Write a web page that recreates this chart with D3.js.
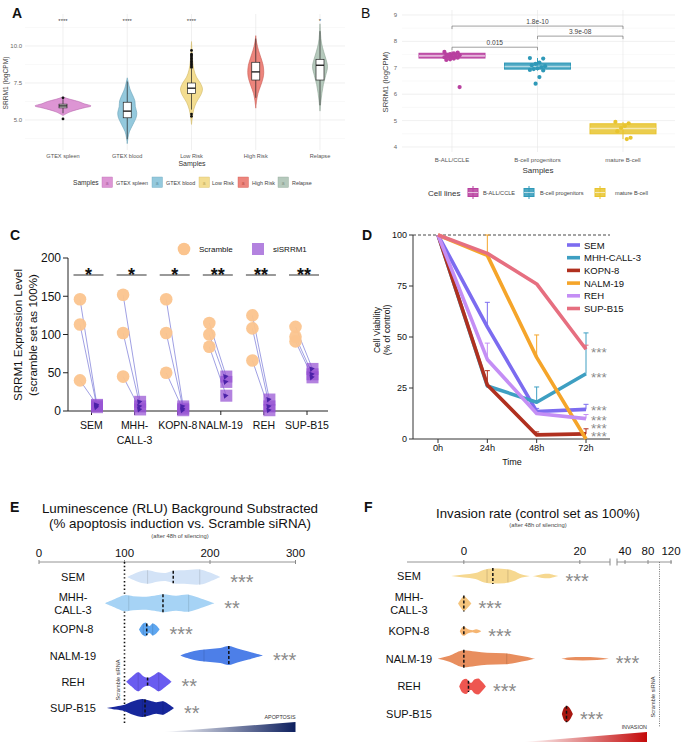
<!DOCTYPE html>
<html><head><meta charset="utf-8">
<script src="https://cdn.jsdelivr.net/npm/d3@7"></script>
<style>body{margin:0;background:#fff}svg{display:block}text{font-family:"Liberation Sans",Arial,Helvetica,sans-serif}</style>
</head><body>
<svg id="chart" width="685" height="746"></svg>
<script>
// ================= DATA =================
// Panel A
const aCategories = ["GTEX spleen","GTEX blood","Low Risk","High Risk","Relapse"];
const aYTicks = [5.0, 7.5, 10.0];
const aProfiles = [
  [[5.3,0],[5.55,0.25],[5.8,0.7],[5.95,1],[6.1,0.75],[6.25,0.55],[6.4,0.25],[6.55,0]],
  [[3.4,0],[3.8,0.08],[4.2,0.22],[4.7,0.6],[5.2,0.95],[5.5,1],[5.9,0.85],[6.3,0.8],[6.7,0.55],[7.1,0.28],[7.5,0.12],[7.85,0]],
  [[4.7,0],[5.2,0.08],[5.7,0.2],[6.2,0.45],[6.7,0.85],[7.1,1],[7.5,0.8],[7.9,0.45],[8.4,0.22],[9.0,0.1],[9.6,0.05],[10.3,0]],
  [[5.8,0],[6.3,0.1],[6.8,0.28],[7.3,0.6],[7.8,0.9],[8.2,1],[8.7,0.92],[9.2,0.65],[9.7,0.35],[10.2,0.12],[10.7,0]],
  [[5.6,0],[6.2,0.1],[6.8,0.25],[7.4,0.45],[8.0,0.75],[8.6,1],[9.1,0.8],[9.6,0.5],[10.2,0.2],[10.8,0.07],[11.5,0]]
];
const aBoxes = [ // q1, median, q3, whisker low, whisker high
  [5.82,5.95,6.07,5.45,6.4],
  [5.15,5.6,6.2,3.7,7.6],
  [6.8,7.15,7.5,5.7,8.45],
  [7.7,8.25,8.9,6.5,10.5],
  [7.7,8.7,9.1,6.0,11.0]
];
const aOutliers = [[6.5,5.07],[],[8.55,8.65,8.75,8.85,8.95,9.05,9.15,9.25,9.35,9.45,9.7,5.25,5.4],[],[]];
const aSignif = ["****","****","****","","*"];

// Panel B
const bCategories = ["B-ALL/CCLE","B-cell progenitors","mature B-cell"];
const bYTicks = [4,5,6,7,8,9];
const bBoxes = [
  [7.37,7.45,7.55,7.3,7.62],
  [6.95,7.05,7.18,6.9,7.37],
  [4.5,4.7,4.88,4.3,4.95]
];
const bPoints = [
  [7.6,7.58,7.55,7.52,7.5,7.48,7.46,7.44,7.42,7.4,7.38,7.35,7.32,7.3,6.27],
  [7.37,7.35,7.2,7.15,7.1,7.06,7.02,6.98,6.95,6.92,6.9,6.65,6.4],
  [4.95,4.9,4.8,4.72,4.6,4.35,4.3]
];
const bComparisons = [
  {from:0, to:2, label:"1.8e-10", level:8.58},
  {from:1, to:2, label:"3.9e-08", level:8.2},
  {from:0, to:1, label:"0.015", level:7.78}
];

// Panel C
const cCategories = ["SEM","MHH-CALL-3","KOPN-8","NALM-19","REH","SUP-B15"];
const cYTicks = [0,50,100,150,200];
const cScramble = [[146,113,40],[152,102,45],[146,102,50],[115,100,84],[125,108,66],[110,97,91]];
const cSiSRRM1 = [[7,5,8],[12,6,2],[6,3,1],[45,38,20],[15,6,1],[55,48,44]];
const cSignif = ["*","*","*","**","**","**"];

// Panel D
const dTimes = ["0h","24h","48h","72h"];
const dYTicks = [0,25,50,75,100];
const dSeries = ["SEM","MHH-CALL-3","KOPN-8","NALM-19","REH","SUP-B15"];
const dSEM    = [100,55,13.5,14.5];
const dMHH    = [100,26,18,32];
const dKOPN   = [100,26.5,2,2.5];
const dNALM   = [100,90,40,0];
const dREH    = [100,39,12.5,10];
const dSUP    = [100,91,76,44];
const dErrSEM  = [0,12,1.5,2.5];
const dErrMHH  = [0,0,7.5,20];
const dErrKOPN = [0,7,1.5,2.5];
const dErrNALM = [0,10,11,0];
const dErrREH  = [0,8,1.5,2];
const dErrSUP  = [0,0,0,2];
const dStarLevels = [44,31.5,15.5,10.8,6.8,2.6];
const dStarLabels = ["***","***","***","***","***","***"];

// Panel E
const eCategories = ["SEM","MHH-CALL-3","KOPN-8","NALM-19","REH","SUP-B15"];
const eTicks = [0,100,200,300];
const eProfiles = [
  [[103,0],[110,0.35],[118,0.7],[127,0.85],[138,0.6],[148,0.5],[158,0.8],[170,0.85],[188,0.95],[200,0.55],[212,0]],
  [[77,0],[88,0.4],[100,0.8],[110,0.7],[122,0.65],[135,0.75],[145,0.9],[160,0.75],[175,0.85],[190,0.45],[205,0]],
  [[117,0],[121,0.7],[125,0.9],[129,0.45],[133,0.8],[137,0.55],[141,0]],
  [[165,0],[175,0.3],[188,0.55],[200,0.65],[212,0.75],[222,0.95],[232,0.7],[245,0.4],[262,0]],
  [[102,0],[108,0.45],[116,0.95],[123,0.5],[128,0.4],[134,0.65],[140,0.95],[148,0.5],[155,0]],
  [[78,0],[90,0.18],[100,0.35],[110,0.75],[121,1],[130,0.8],[137,0.65],[145,0.75],[152,0.4],[158,0]]
];
const eQuartiles = [[127,188],[105,175],[122,133],[193],[116,140],[121,145]];
const eMedians = [157,145,126,222,127,124];
const eStars = ["***","**","***","***","**","**"];

// Panel F
const fCategories = ["SEM","MHH-CALL-3","KOPN-8","NALM-19","REH","SUP-B15"];
const fTicksLow = [0,20];
const fTicksHigh = [40,80,120];
const fProfiles = [
  [[-2.2,0],[0,0.2],[2,0.4],[3.5,0.85],[5,1],[7,0.95],[8.5,0.7],[10,0.2],[11,0.05],[11.8,0],[12.3,0.05],[13.5,0.25],[14.5,0.3],[15.5,0.15],[16.3,0]],
  [[-1,0],[-0.4,0.7],[0,1],[0.5,0.7],[1.3,0]],
  [[-0.7,0],[-0.2,0.85],[0.1,0.9],[0.5,0.55],[1.0,0.3],[1.5,0.2],[2.1,0.4],[2.6,0.25],[3.0,0]],
  [[-4.5,0],[-2.5,0.35],[0,1],[2,0.85],[4,0.7],[7,0.65],[9,0.45],[11,0.2],[12.3,0],[16.8,0],[18,0.15],[20.5,0.2],[23,0.15],[25,0]],
  [[-0.8,0],[-0.2,0.8],[0.4,0.95],[1.0,0.5],[1.3,0.45],[1.8,0.85],[2.5,1],[3.1,0.6],[3.8,0]],
  [[16.9,0],[17.3,0.8],[17.8,1],[18.3,0.7],[18.8,0]]
];
const fQuartiles = [[4,7.6],[],[],[7.4],[],[]];
const fMedians = [5,0,0,0,0.8,17.7];
const fStars = ["***","***","***","***","***","***"];
const fControl = 100;

// ================= STYLES =================
const aColors = ["#d47ac9","#79bcd4","#f0d576","#e9675c","#a3bcab"];
const aHalf = [28,9.5,11,8,7.5];
const bColors = ["#b8409f","#2f99b8","#e8c42e"];
const dColors = ["#7c6cf0","#3e9fc2","#b0301f","#f5a52a","#c48ef5","#e66f80"];
const eColors = ["#d3e3f7","#a6d3f5","#5ea6f0","#4d7fe8","#6a5cf0","#17279c"];
const eHalf = [8,10,7.5,10,10,9];
const fColors = ["#f6d890","#f5c47c","#f5b572","#e88e5e","#ee5650","#a81710"];
const fHalf = [7.5,7.5,5,8.5,8,8];

const svg = d3.select("#chart");
function txt(g,x,y,s,o={}){
  const t=g.append("text").attr("x",x).attr("y",y).text(s)
    .attr("font-size",o.size||10).attr("fill",o.fill||"#111")
    .attr("text-anchor",o.anchor||"start");
  if(o.weight) t.attr("font-weight",o.weight);
  if(o.rotate!=null) t.attr("transform",`rotate(${o.rotate},${x},${y})`);
  if(o.family) t.attr("font-family",o.family);
  return t;
}
function halfAt(p,v){
  for(let i=0;i<p.length-1;i++){const[a,wa]=p[i],[b,wb]=p[i+1];if(v>=a&&v<=b)return wa+(wb-wa)*(v-a)/(b-a);}
  return 0;
}

// ================= PANEL A =================
(function(){
  const g=svg.append("g");
  const y=d3.scaleLinear().domain([5,10]).range([120,46]);
  const x=d3.scalePoint().domain(aCategories).range([63,320]);
  const gx0=25,gx1=345,gy0=14,gy1=150;
  [3.75,6.25,8.75,11.25].forEach(v=>g.append("line").attr("x1",gx0).attr("x2",gx1).attr("y1",y(v)).attr("y2",y(v)).attr("stroke","#f0f0f0").attr("stroke-width",0.4));
  aYTicks.forEach(v=>{
    g.append("line").attr("x1",gx0).attr("x2",gx1).attr("y1",y(v)).attr("y2",y(v)).attr("stroke","#e6e6e6").attr("stroke-width",0.6);
    txt(g,22,y(v)+2,d3.format(".1f")(v),{size:6,fill:"#666",anchor:"end"});
  });
  aCategories.forEach(c=>g.append("line").attr("x1",x(c)).attr("x2",x(c)).attr("y1",gy0).attr("y2",gy1).attr("stroke","#e6e6e6").attr("stroke-width",0.6));
  txt(g,8,83,"SRRM1 (logCPM)",{size:6.6,fill:"#444",anchor:"middle",rotate:-90});
  aCategories.forEach((c,i)=>{
    const cx=x(c),h=aHalf[i],col=aColors[i];
    const area=d3.area().curve(d3.curveCatmullRom).y(d=>y(d[0])).x0(d=>cx-d[1]*h).x1(d=>cx+d[1]*h);
    g.append("path").attr("d",area(aProfiles[i])).attr("fill",col).attr("fill-opacity",0.8).attr("stroke",d3.color(col).darker(0.4)).attr("stroke-width",0.6);
    const [q1,md,q3,lo,hi]=aBoxes[i];
    g.append("line").attr("x1",cx).attr("x2",cx).attr("y1",y(lo)).attr("y2",y(q1)).attr("stroke","#222").attr("stroke-width",0.7);
    g.append("line").attr("x1",cx).attr("x2",cx).attr("y1",y(q3)).attr("y2",y(hi)).attr("stroke","#222").attr("stroke-width",0.7);
    g.append("rect").attr("x",cx-4).attr("width",8).attr("y",y(q3)).attr("height",y(q1)-y(q3)).attr("fill","#fff").attr("stroke","#222").attr("stroke-width",0.7);
    g.append("line").attr("x1",cx-4).attr("x2",cx+4).attr("y1",y(md)).attr("y2",y(md)).attr("stroke","#111").attr("stroke-width",1.3);
    aOutliers[i].forEach(v=>g.append("circle").attr("cx",cx).attr("cy",y(v)).attr("r",1.4).attr("fill","#111"));
    if(aSignif[i]) txt(g,cx,23,aSignif[i],{size:6,fill:"#444",anchor:"middle"});
    txt(g,cx,158,c,{size:5.6,fill:"#555",anchor:"middle"});
  });
  txt(g,192,166,"Samples",{size:7,fill:"#333",anchor:"middle"});
  txt(g,73,184.5,"Samples",{size:6.6,fill:"#333"});
  const lk=[102,152,199,238,278], lt=[116,166,212,252,292];
  aCategories.forEach((c,i)=>{
    g.append("rect").attr("x",lk[i]).attr("y",177).attr("width",10.5).attr("height",10.5).attr("fill",aColors[i]).attr("fill-opacity",0.8).attr("stroke",d3.color(aColors[i]).darker(0.3)).attr("stroke-width",0.4);
    txt(g,lk[i]+5.2,184.5,"a",{size:5,fill:d3.color(aColors[i]).darker(0.6),anchor:"middle"});
    txt(g,lt[i],184.5,c,{size:5.4,fill:"#444"});
  });
  txt(g,12,18,"A",{size:14,weight:"bold",fill:"#111"});
})();

// ================= PANEL B =================
(function(){
  const g=svg.append("g");
  const y=d3.scaleLinear().domain([4,9]).range([147,15]);
  const x=d3.scalePoint().domain(bCategories).range([452,623]);
  const gx0=402,gx1=675;
  [4.5,5.5,6.5,7.5,8.5].forEach(v=>g.append("line").attr("x1",gx0).attr("x2",gx1).attr("y1",y(v)).attr("y2",y(v)).attr("stroke","#f0f0f0").attr("stroke-width",0.4));
  bYTicks.forEach(v=>{
    g.append("line").attr("x1",gx0).attr("x2",gx1).attr("y1",y(v)).attr("y2",y(v)).attr("stroke","#e6e6e6").attr("stroke-width",0.6);
    txt(g,397,y(v)+2,v,{size:6,fill:"#666",anchor:"end"});
  });
  bCategories.forEach(c=>g.append("line").attr("x1",x(c)).attr("x2",x(c)).attr("y1",10).attr("y2",152).attr("stroke","#e6e6e6").attr("stroke-width",0.6));
  txt(g,388,82,"SRRM1 (logCPM)",{size:7.6,fill:"#444",anchor:"middle",rotate:-90,family:"'DejaVu Sans',sans-serif"});
  bCategories.forEach((c,i)=>{
    const cx=x(c),col=bColors[i],[q1,md,q3,lo,hi]=bBoxes[i];
    g.append("line").attr("x1",cx).attr("x2",cx).attr("y1",y(lo)).attr("y2",y(hi)).attr("stroke",col).attr("stroke-width",1);
    g.append("rect").attr("x",cx-33).attr("width",66).attr("y",y(q3)).attr("height",y(q1)-y(q3)).attr("fill",col).attr("fill-opacity",0.85).attr("stroke",col).attr("stroke-width",1);
    g.append("line").attr("x1",cx-33).attr("x2",cx+33).attr("y1",y(md)).attr("y2",y(md)).attr("stroke","#fff").attr("stroke-opacity",0.55).attr("stroke-width",1.6);
    bPoints[i].forEach((v,j)=>{
      const off=((j*7)%9-4)*1.9;
      g.append("circle").attr("cx",cx+off).attr("cy",y(v)).attr("r",2.1).attr("fill",col);
    });
    txt(g,cx,162,c,{size:6,fill:"#555",anchor:"middle",family:"'DejaVu Sans',sans-serif"});
  });
  bComparisons.forEach(cm=>{
    const x1=x(bCategories[cm.from]),x2=x(bCategories[cm.to]),yy=y(cm.level);
    g.append("path").attr("d",`M${x1},${yy+3}V${yy}H${x2}V${yy+3}`).attr("fill","none").attr("stroke","#777").attr("stroke-width",0.7);
    txt(g,(x1+x2)/2,yy-2.5,cm.label,{size:6.6,fill:"#444",anchor:"middle",family:"'DejaVu Sans',sans-serif"});
  });
  txt(g,538,173,"Samples",{size:8,fill:"#333",anchor:"middle",family:"'DejaVu Sans',sans-serif"});
  txt(g,428,195.5,"Cell lines",{size:8,fill:"#333",family:"'DejaVu Sans',sans-serif"});
  const lk=[468,524,595], lt=[483,540,615];
  bCategories.forEach((c,i)=>{
    const col=bColors[i];
    g.append("line").attr("x1",lk[i]+5).attr("x2",lk[i]+5).attr("y1",186).attr("y2",199).attr("stroke",col).attr("stroke-width",1);
    g.append("rect").attr("x",lk[i]).attr("y",188.5).attr("width",10).attr("height",8).attr("fill",col).attr("fill-opacity",0.85).attr("stroke",col);
    g.append("line").attr("x1",lk[i]).attr("x2",lk[i]+10).attr("y1",192.5).attr("y2",192.5).attr("stroke","#fff").attr("stroke-opacity",0.6);
    txt(g,lt[i],194.5,c,{size:5.6,fill:"#444",family:"'DejaVu Sans',sans-serif"});
  });
  txt(g,361,18,"B",{size:14,fill:"#111"});
})();

// ================= PANEL C =================
(function(){
  const g=svg.append("g");
  const y=d3.scaleLinear().domain([0,200]).range([411,258]);
  const x=d3.scalePoint().domain(cCategories).range([88.5,304]);
  g.append("line").attr("x1",68).attr("x2",68).attr("y1",y(200)).attr("y2",y(0)).attr("stroke","#222").attr("stroke-width",1);
  g.append("line").attr("x1",68).attr("x2",328).attr("y1",y(0)).attr("y2",y(0)).attr("stroke","#222").attr("stroke-width",1);
  cYTicks.forEach(v=>{
    g.append("line").attr("x1",63).attr("x2",68).attr("y1",y(v)).attr("y2",y(v)).attr("stroke","#222");
    txt(g,61,y(v)+4.3,v,{size:12,anchor:"end"});
  });
  txt(g,22,335,"SRRM1 Expression Level",{size:11.6,anchor:"middle",rotate:-90});
  txt(g,37,335,"(scramble set as 100%)",{size:11.6,anchor:"middle",rotate:-90});
  cCategories.forEach((c,i)=>{
    const cx=x(c),sx=cx-8.5,qx=cx+8.5;
    g.append("line").attr("x1",cx+3).attr("x2",cx+3).attr("y1",y(0)).attr("y2",y(0)+4).attr("stroke","#222");
    const parts=c==="MHH-CALL-3"?["MHH-","CALL-3"]:[c];
    parts.forEach((p,k)=>txt(g,cx+3,y(0)+18+k*15,p,{size:10.5,anchor:"middle"}));
    g.append("line").attr("x1",cx-15).attr("x2",cx+15).attr("y1",275).attr("y2",275).attr("stroke","#777").attr("stroke-width",1.5);
    txt(g,cx,280.5,cSignif[i],{size:18,anchor:"middle",weight:"bold",fill:"#111"});
    cScramble[i].forEach((v,k)=>{
      g.append("line").attr("x1",sx).attr("y1",y(v)).attr("x2",qx).attr("y2",y(cSiSRRM1[i][k])).attr("stroke","#7272d6").attr("stroke-width",0.8).attr("stroke-opacity",0.85);
    });
    cScramble[i].forEach(v=>g.append("circle").attr("cx",sx).attr("cy",y(v)).attr("r",6.3).attr("fill","#fbc48e").attr("fill-opacity",0.95));
    cSiSRRM1[i].forEach(v=>g.append("rect").attr("x",qx-6).attr("y",y(v)-6).attr("width",12).attr("height",12).attr("fill","#9552d2").attr("fill-opacity",0.72));
    cSiSRRM1[i].forEach(v=>g.append("path").attr("d",d3.symbol(d3.symbolTriangle,14)()).attr("transform",`translate(${qx-1},${y(v)}) rotate(200)`).attr("fill","#4b22a8"));
  });
  g.append("circle").attr("cx",184).attr("cy",249).attr("r",6.3).attr("fill","#fbc48e");
  txt(g,199,252,"Scramble",{size:8});
  g.append("rect").attr("x",252).attr("y",243).attr("width",12).attr("height",12).attr("fill","#9552d2").attr("fill-opacity",0.72);
  txt(g,273,252,"siSRRM1",{size:8});
  txt(g,10,240,"C",{size:14,weight:"bold",fill:"#111"});
})();

// ================= PANEL D =================
(function(){
  const g=svg.append("g");
  const y=d3.scaleLinear().domain([0,100]).range([439,235]);
  const x=d3.scalePoint().domain(dTimes).range([438,586]);
  const vals=[dSEM,dMHH,dKOPN,dNALM,dREH,dSUP], errs=[dErrSEM,dErrMHH,dErrKOPN,dErrNALM,dErrREH,dErrSUP];
  g.append("line").attr("x1",413).attr("x2",610).attr("y1",y(100)).attr("y2",y(100)).attr("stroke","#333").attr("stroke-dasharray","3,2").attr("stroke-width",0.9);
  g.append("line").attr("x1",413).attr("x2",413).attr("y1",y(100)).attr("y2",y(0)).attr("stroke","#333");
  g.append("line").attr("x1",413).attr("x2",610).attr("y1",y(0)).attr("y2",y(0)).attr("stroke","#333");
  dYTicks.forEach(v=>{
    g.append("line").attr("x1",409).attr("x2",413).attr("y1",y(v)).attr("y2",y(v)).attr("stroke","#333");
    txt(g,407,y(v)+3.2,v,{size:9,anchor:"end"});
  });
  dTimes.forEach(t=>{
    g.append("line").attr("x1",x(t)).attr("x2",x(t)).attr("y1",y(0)).attr("y2",y(0)+4).attr("stroke","#333");
    txt(g,x(t),451,t,{size:9.2,anchor:"middle"});
  });
  txt(g,512,465,"Time",{size:9,anchor:"middle"});
  txt(g,380,330,"Cell Viability",{size:8.5,anchor:"middle",rotate:-90});
  txt(g,390,330,"(% of control)",{size:8.5,anchor:"middle",rotate:-90});
  const line=d3.line().x((d,i)=>x(dTimes[i])).y(d=>y(d));
  vals.forEach((v,i)=>{
    errs[i].forEach((e,k)=>{
      if(e<=0) return;
      const xx=x(dTimes[k]);
      g.append("line").attr("x1",xx).attr("x2",xx).attr("y1",y(v[k])).attr("y2",y(v[k]+e)).attr("stroke",dColors[i]).attr("stroke-width",1);
      g.append("line").attr("x1",xx-2.5).attr("x2",xx+2.5).attr("y1",y(v[k]+e)).attr("y2",y(v[k]+e)).attr("stroke",dColors[i]).attr("stroke-width",1);
    });
  });
  vals.forEach((v,i)=>{
    g.append("path").attr("d",line(v)).attr("fill","none").attr("stroke",dColors[i]).attr("stroke-width",3.6).attr("stroke-linejoin","round");
  });
  // significance stars as one stacked text block
  const st=g.append("text").attr("font-size",13.5).attr("fill","#8a8a8a");
  dStarLevels.forEach((v,i)=>st.append("tspan").attr("x",591).attr("y",y(v)+7.6).text(dStarLabels[i]));
  dSeries.forEach((s,i)=>{
    const yy=245+i*12.7;
    g.append("line").attr("x1",567).attr("x2",580).attr("y1",yy).attr("y2",yy).attr("stroke",dColors[i]).attr("stroke-width",3.6);
    txt(g,584,yy+3.5,s,{size:9.5});
  });
  txt(g,362,240,"D",{size:14,weight:"bold",fill:"#111"});
})();

// ================= PANEL E =================
(function(){
  const g=svg.append("g");
  const x=d3.scaleLinear().domain([0,300]).range([39,295.5]);
  const y=d3.scalePoint().domain(eCategories).range([577,708]);
  txt(g,180,513,"Luminescence (RLU) Background Substracted",{size:13.4,anchor:"middle"});
  txt(g,180,528,"(% apoptosis induction vs. Scramble siRNA)",{size:13.4,anchor:"middle"});
  txt(g,180,538,"(after 48h of silencing)",{size:5.8,anchor:"middle",fill:"#444"});
  g.append("line").attr("x1",x(0)).attr("x2",x(300)).attr("y1",562).attr("y2",562).attr("stroke","#888").attr("stroke-width",0.9);
  eTicks.forEach(t=>{
    g.append("line").attr("x1",x(t)).attr("x2",x(t)).attr("y1",560).attr("y2",564).attr("stroke","#888");
    txt(g,x(t),557,t,{size:11.5,anchor:"middle"});
  });
  g.append("line").attr("x1",x(100)).attr("x2",x(100)).attr("y1",562).attr("y2",724).attr("stroke","#111").attr("stroke-width",1.6).attr("stroke-dasharray","1.4,2.4");
  txt(g,120,680,"Scramble siRNA",{size:5.6,anchor:"middle",rotate:-90,fill:"#333"});
  eCategories.forEach((c,i)=>{
    const cy=y(c),h=eHalf[i],col=eColors[i];
    const area=d3.area().curve(d3.curveCatmullRom).x(d=>x(d[0])).y0(d=>cy-d[1]*h).y1(d=>cy+d[1]*h);
    g.append("path").attr("d",area(eProfiles[i])).attr("fill",col);
    eQuartiles[i].forEach(q=>{const hh=halfAt(eProfiles[i],q)*h;g.append("line").attr("x1",x(q)).attr("x2",x(q)).attr("y1",cy-hh).attr("y2",cy+hh).attr("stroke",d3.color(col).darker(0.5)).attr("stroke-width",0.7);});
    const m=eMedians[i],mh=halfAt(eProfiles[i],m)*h;
    g.append("line").attr("x1",x(m)).attr("x2",x(m)).attr("y1",cy-mh).attr("y2",cy+mh).attr("stroke","#111").attr("stroke-width",1.5).attr("stroke-dasharray","3,2");
    const maxV=d3.max(eProfiles[i],d=>d[0]);
    txt(g,x(maxV)+10,cy+11.5,eStars[i],{size:20,fill:"#8a8a8a"});
    const parts=c==="MHH-CALL-3"?["MHH-","CALL-3"]:[c];
    parts.forEach((p,k)=>txt(g,73,cy+4-(parts.length-1)*6.5+k*13,p,{size:11,anchor:"middle"}));
  });
  const grad=svg.append("defs").append("linearGradient").attr("id","gE");
  grad.append("stop").attr("offset","0%").attr("stop-color","#ffffff");
  grad.append("stop").attr("offset","100%").attr("stop-color","#0d1f5e");
  g.append("path").attr("d",`M${x(145)},732L${x(300)},732L${x(300)},722Z`).attr("fill","url(#gE)");
  txt(g,x(300),719,"APOPTOSIS",{size:5.4,anchor:"end",fill:"#333"});
  txt(g,10,512,"E",{size:14,weight:"bold",fill:"#111"});
})();

// ================= PANEL F =================
(function(){
  const g=svg.append("g");
  const x=d3.scaleLinear().domain([-9.8,25.2]).range([407,610]);
  const x2=d3.scaleLinear().domain([40,120]).range([625,671]);
  const y=d3.scalePoint().domain(fCategories).range([576,714]);
  txt(g,538,518,"Invasion rate (control set as 100%)",{size:13.2,anchor:"middle"});
  txt(g,538,527,"(after 48h of silencing)",{size:5.8,anchor:"middle",fill:"#444"});
  g.append("line").attr("x1",407).attr("x2",610).attr("y1",562).attr("y2",562).attr("stroke","#888").attr("stroke-width",0.9);
  g.append("line").attr("x1",617).attr("x2",672).attr("y1",562).attr("y2",562).attr("stroke","#888").attr("stroke-width",0.9);
  [610,617].forEach(b=>g.append("line").attr("x1",b).attr("x2",b).attr("y1",558.5).attr("y2",565.5).attr("stroke","#888"));
  fTicksLow.forEach(t=>{
    g.append("line").attr("x1",x(t)).attr("x2",x(t)).attr("y1",560).attr("y2",564).attr("stroke","#888");
    txt(g,x(t),555,t,{size:11.5,anchor:"middle"});
  });
  fTicksHigh.forEach(t=>{
    g.append("line").attr("x1",x2(t)).attr("x2",x2(t)).attr("y1",560).attr("y2",564).attr("stroke","#888");
    txt(g,x2(t),555,t,{size:11.5,anchor:"middle"});
  });
  g.append("line").attr("x1",x2(fControl)).attr("x2",x2(fControl)).attr("y1",562).attr("y2",727).attr("stroke","#777").attr("stroke-width",1).attr("stroke-dasharray","1,1.3");
  txt(g,655,697,"Scramble siRNA",{size:5.6,anchor:"middle",rotate:-90,fill:"#333"});
  fCategories.forEach((c,i)=>{
    const cy=y(c),h=fHalf[i],col=fColors[i];
    const area=d3.area().curve(d3.curveMonotoneX).x(d=>x(d[0])).y0(d=>cy-d[1]*h).y1(d=>cy+d[1]*h);
    g.append("path").attr("d",area(fProfiles[i])).attr("fill",col);
    fQuartiles[i].forEach(q=>{const hh=halfAt(fProfiles[i],q)*h;g.append("line").attr("x1",x(q)).attr("x2",x(q)).attr("y1",cy-hh).attr("y2",cy+hh).attr("stroke",d3.color(col).darker(0.6)).attr("stroke-width",0.7);});
    const m=fMedians[i],mh=halfAt(fProfiles[i],m)*h;
    g.append("line").attr("x1",x(m)).attr("x2",x(m)).attr("y1",cy-mh-0.5).attr("y2",cy+mh+0.5).attr("stroke","#111").attr("stroke-width",1.5).attr("stroke-dasharray","3,2");
    const maxV=d3.max(fProfiles[i],d=>d[0]);
    txt(g,x(maxV)+7,cy+11.5,fStars[i],{size:20,fill:"#8a8a8a"});
    const parts=c==="MHH-CALL-3"?["MHH-","CALL-3"]:[c];
    parts.forEach((p,k)=>txt(g,409,cy+4-(parts.length-1)*6.5+k*13,p,{size:11,anchor:"middle"}));
  });
  const grad=svg.select("defs").append("linearGradient").attr("id","gF");
  grad.append("stop").attr("offset","0%").attr("stop-color","#ffffff");
  grad.append("stop").attr("offset","100%").attr("stop-color","#c40a0a");
  g.append("path").attr("d","M523,742L647,742L647,732Z").attr("fill","url(#gF)");
  txt(g,647,729,"INVASION",{size:5.4,anchor:"end",fill:"#333"});
  txt(g,364,512,"F",{size:14,weight:"bold",fill:"#111"});
})();
</script>
</body></html>
